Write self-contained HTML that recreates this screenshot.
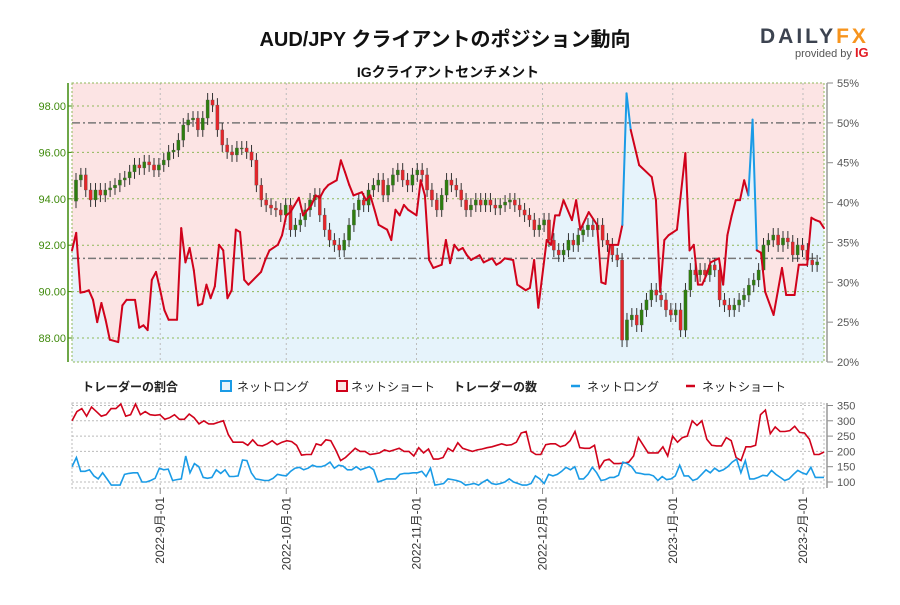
<!DOCTYPE html>
<html><head><meta charset="utf-8"><style>
body{margin:0;background:#fff;width:900px;height:600px;overflow:hidden;font-family:"Liberation Sans","Noto Sans CJK JP",sans-serif}
</style></head><body>
<svg id="c" width="900" height="600" viewBox="0 0 900 600" xmlns="http://www.w3.org/2000/svg" font-family="Liberation Sans, Noto Sans CJK JP, sans-serif">
<text x="445" y="46" text-anchor="middle" font-size="20" font-weight="bold" fill="#111">AUD/JPY クライアントのポジション動向</text>
<text x="448" y="77" text-anchor="middle" font-size="14" font-weight="bold" fill="#111">IGクライアントセンチメント</text>
<g>
<text x="760" y="43" font-size="21" font-weight="bold" fill="#3c4350" letter-spacing="3">DAILY<tspan fill="#f7941d">FX</tspan></text>
<text x="795" y="57" font-size="11" fill="#555">provided by <tspan fill="#e31b23" font-weight="bold" font-size="13">IG</tspan></text>
</g>
<g id="main"></g>
<g id="legend" font-size="12" fill="#222">
<text x="82" y="391" font-weight="bold">トレーダーの割合</text>
<rect x="221" y="381" width="10" height="10" fill="#e6f3fb" stroke="#1a9be6" stroke-width="2"/>
<text x="237" y="391">ネットロング</text>
<rect x="337" y="381" width="10" height="10" fill="#fce4e4" stroke="#d0021b" stroke-width="2"/>
<text x="351" y="391">ネットショート</text>
<text x="453" y="391" font-weight="bold">トレーダーの数</text>
<line x1="571" y1="386" x2="580" y2="386" stroke="#1a9be6" stroke-width="2.5"/>
<text x="587" y="391">ネットロング</text>
<line x1="686" y1="386" x2="695" y2="386" stroke="#d0021b" stroke-width="2.5"/>
<text x="702" y="391">ネットショート</text>
</g>
<g id="bottom"></g>
</svg>
<script>
const pctDays=[0,1,2,3,4,5,6,7,8,9,11,12,13,15,16,17,18,19,20,21,22,23,25,26,27,28,29,30,31,32,33,34,35,36,37,38,39,40,41,42,45,46,47,49,50,51,52,53,54,55,57,58,59,60,61,63,64,65,66,67,69,70,71,72,73,75,76,77,78,79,80,82,83,84,85,86,88,89,90,91,92,93,94,95,97,98,100,101,102,103,105,106,108,109,110,111,113,114,115,116,117,119,120,121,123,125,126,127,128,130,131,132,133,135,138,139,140,141,142,144,146,147,148,149,150,151,152,154,155,156,157,158,159,160,161,162,163,164,165,167,169,170,172,173,175,176,177,178,179];
const pctValues=[34.0,36.2,28.7,28.8,29.0,27.8,25.0,27.4,25.3,22.8,22.5,27.1,27.8,27.8,24.3,24.6,24.0,30.3,31.3,29.0,26.5,25.3,25.3,36.8,32.5,34.3,31.5,27.1,27.3,29.7,28.0,29.5,34.7,34.0,28.0,29.0,36.6,36.3,30.3,29.7,31.3,32.8,34.0,34.7,35.9,38.4,38.8,39.7,40.6,38.4,39.7,40.9,40.6,41.6,42.2,42.8,45.3,43.8,42.2,40.9,41.3,40.3,40.9,39.1,37.2,36.6,35.3,39.1,38.4,39.7,39.1,38.4,42.8,40.9,32.8,31.8,32.2,35.3,32.4,34.7,34.0,34.3,33.4,32.8,33.4,32.5,33.0,32.2,32.5,33.0,32.8,29.7,29.0,29.3,32.8,26.8,35.3,34.7,38.4,38.4,40.3,37.8,40.3,36.6,38.8,37.2,30.0,29.8,34.7,34.7,37.2,53.7,49.1,44.7,43.2,40.3,28.8,35.3,35.9,36.6,46.2,34.0,34.7,29.7,29.7,30.9,32.5,33.0,29.7,35.9,38.3,40.3,40.3,42.8,40.9,50.4,34.0,33.7,28.8,25.9,31.8,28.4,28.4,32.2,32.2,38.1,37.8,37.6,36.8];
const closes=[94.81,95.03,94.38,93.95,94.38,94.16,94.38,94.47,94.59,94.81,94.90,95.16,95.46,95.33,95.59,95.46,95.24,95.46,95.67,96.02,96.10,96.53,97.18,97.40,97.48,96.97,97.48,98.26,98.04,96.97,96.32,96.02,95.89,96.19,96.19,96.02,95.67,94.59,93.95,93.73,93.60,93.52,93.30,93.73,92.66,92.87,93.09,93.52,93.95,94.16,93.30,92.66,92.22,92.01,91.79,92.22,92.87,93.52,93.95,93.73,94.38,94.59,94.81,94.16,94.59,95.03,95.24,94.81,94.59,95.03,95.24,95.03,94.38,93.95,93.52,94.16,94.81,94.59,94.38,93.95,93.52,93.73,93.95,93.73,93.95,93.73,93.60,93.73,93.86,93.95,93.73,93.52,93.30,93.09,92.66,92.87,93.09,92.22,91.79,91.58,91.79,92.22,92.01,92.44,92.66,92.87,92.66,92.87,92.22,92.01,91.58,91.36,87.91,88.78,88.99,88.56,89.21,89.64,90.07,89.85,89.64,89.21,88.99,89.21,88.34,90.07,90.93,90.72,90.93,90.72,91.15,90.93,89.64,89.42,89.21,89.42,89.64,89.85,90.28,90.50,90.93,92.01,92.22,92.44,92.01,92.31,92.14,91.58,92.01,91.79,91.36,91.15,91.28];
const shortCounts=[300,330,340,315,345,330,315,320,340,340,355,315,320,355,320,330,320,318,320,305,310,320,305,305,322,310,290,300,290,290,295,300,255,230,230,230,220,238,220,218,225,235,222,230,235,232,220,188,190,190,225,220,238,235,205,170,180,195,210,200,200,190,192,195,205,200,205,210,200,200,185,212,195,208,175,175,180,210,200,228,210,205,200,205,208,212,215,220,225,220,222,230,260,265,200,190,190,222,225,225,215,220,235,265,212,210,210,220,145,170,175,160,160,162,165,185,245,220,195,195,195,215,185,250,230,245,250,300,285,300,240,220,218,218,245,235,180,170,215,215,220,320,335,258,280,265,265,268,282,262,260,240,190,190,198];
const longCounts=[150,180,135,135,140,120,110,130,110,90,90,90,125,128,130,130,100,100,105,112,145,140,142,105,108,110,185,130,160,150,115,112,115,140,128,140,118,118,120,172,170,130,110,108,105,105,112,125,122,120,135,145,148,140,145,155,150,150,155,165,145,155,152,140,140,150,140,145,150,140,100,105,110,110,110,125,128,128,130,130,135,118,145,90,92,95,110,108,105,100,90,92,95,90,100,108,95,92,95,100,110,100,95,90,90,95,120,110,95,125,120,125,135,148,140,150,110,110,125,148,130,105,108,115,115,122,165,160,150,130,128,125,125,120,105,118,108,110,120,155,120,120,105,110,125,140,130,145,135,140,150,165,175,130,170,110,110,115,122,120,138,125,115,105,110,125,138,130,125,148,115,115,115];
const priceTicks=[88,90,92,94,96,98];
const pctTicks=[20,25,30,35,40,45,50,55];
const countTicks=[100,150,200,250,300,350];
const monthLabels=["2022-9月-01","2022-10月-01","2022-11月-01","2022-12月-01","2023-1月-01","2023-2月-01"];
const monthDays=[21,51,82,112,143,174];
const refPct=[50,33];

const NS="http://www.w3.org/2000/svg";
const X0=72,X1=824,DMAX=179;
const xs=d=>X0+d*(X1-X0)/DMAX;
const yP=p=>106+(98-p)*23.2;
const yR=v=>83+(55-v)*(362-83)/35;
const yC=v=>482-(v-100)*0.306;
function mk(parent,tag,attrs){const e=document.createElementNS(NS,tag);for(const k in attrs)e.setAttribute(k,attrs[k]);parent.appendChild(e);return e;}
const main=document.getElementById('main');
const bottom=document.getElementById('bottom');

let pts=pctDays.map((d,i)=>xs(d).toFixed(1)+','+yR(pctValues[i]).toFixed(1));
const pink=mk(main,'rect',{x:X0,y:83,width:X1-X0,height:279,fill:'#fce4e4'});


const blue=mk(main,'polygon',{points:xs(0)+',362 '+pts.join(' ')+' '+xs(DMAX)+',362',fill:'#e6f3fb'});



priceTicks.forEach(p=>{
  const l=mk(main,'line',{x1:X0,x2:X1,y1:yP(p),y2:yP(p),stroke:'#8fb85a','stroke-dasharray':'2,3','stroke-width':1});
  
  
  const t=mk(main,'text',{x:X0-6,y:yP(p)+4,'text-anchor':'end','font-size':11,fill:'#3f8a0b'});
  t.textContent=p.toFixed(2);
  
  
  mk(main,'line',{x1:X0-4,x2:X0,y1:yP(p),y2:yP(p),stroke:'#3f8a0b'});
});
pctTicks.forEach(v=>{
  const t=mk(main,'text',{x:X1+13,y:yR(v)+4,'font-size':11,fill:'#555'});
  t.textContent=v+'%';
  
  
  mk(main,'line',{x1:X1+3,x2:X1+9,y1:yR(v),y2:yR(v),stroke:'#888'});
});
monthDays.forEach(d=>{
  const l=mk(main,'line',{x1:xs(d),x2:xs(d),y1:83,y2:362,stroke:'#bbb','stroke-dasharray':'2,3'});
  
  
});
refPct.forEach(v=>{
  const l=mk(main,'line',{x1:X0,x2:X1,y1:yR(v),y2:yR(v),stroke:'#777','stroke-dasharray':'8,3,2,3','stroke-width':1.5});
  
  
});
const fr=mk(main,'rect',{x:X0,y:83,width:X1-X0,height:279,fill:'none',stroke:'#8fb85a','stroke-dasharray':'2,2'});


mk(main,'line',{x1:X0-4,x2:X0-4,y1:83,y2:362,stroke:'#3f8a0b','stroke-width':1.5});
mk(main,'line',{x1:X1+3,x2:X1+3,y1:83,y2:362,stroke:'#999','stroke-width':1.5});

const n=closes.length;
const cw=(X1-X0-6)/n;
for(let i=0;i<n;i++){
  const o=i?closes[i-1]:93.9, c=closes[i];
  const hi=Math.max(o,c)+0.3, lo=Math.min(o,c)-0.3;
  const cx=X0+4+i*cw;
  const w=mk(main,'line',{x1:cx,x2:cx,y1:yP(hi),y2:yP(lo),stroke:'#333','stroke-width':1});
  
  
  const top=yP(Math.max(o,c)),h=Math.max(1,Math.abs(yP(o)-yP(c)));
  const r=mk(main,'rect',{x:cx-1.6,y:top,width:3.2,height:h,fill:c>=o?'#2e7d0f':'#e3262b',stroke:'#555','stroke-width':0.3});
  
  
}
for(let i=1;i<pctDays.length;i++){
  const a=pctValues[i-1],b=pctValues[i];
  const l=mk(main,'line',{x1:xs(pctDays[i-1]),y1:yR(a),x2:xs(pctDays[i]),y2:yR(b),stroke:(a>50||b>50)?'#1a9be6':'#d0021b','stroke-width':2,'stroke-linecap':'round'});
  
  
}

const by0=403,by1=488;
countTicks.forEach(v=>{
  const l=mk(bottom,'line',{x1:X0,x2:X1,y1:yC(v),y2:yC(v),stroke:'#bbb','stroke-dasharray':'2,2'});
  
  
  const t=mk(bottom,'text',{x:X1+13,y:yC(v)+4,'font-size':11,fill:'#555'});
  t.textContent=v;
  
  
  mk(bottom,'line',{x1:X1+3,x2:X1+9,y1:yC(v),y2:yC(v),stroke:'#888'});
});
const bf=mk(bottom,'rect',{x:X0,y:by0,width:X1-X0,height:by1-by0,fill:'none',stroke:'#bbb','stroke-dasharray':'2,2'});


mk(bottom,'line',{x1:X1+3,x2:X1+3,y1:by0,y2:by1,stroke:'#999','stroke-width':1.5});
monthDays.forEach((d,i)=>{
  const l=mk(bottom,'line',{x1:xs(d),x2:xs(d),y1:by0,y2:by1,stroke:'#bbb','stroke-dasharray':'2,3'});
  
  
  mk(bottom,'line',{x1:xs(d),x2:xs(d),y1:by1,y2:by1+6,stroke:'#888'});
  const t=mk(bottom,'text',{x:0,y:0,'font-size':12,fill:'#333','text-anchor':'end',transform:`translate(${xs(d)+4},497) rotate(-90)`});
  t.textContent=monthLabels[i];
  
  
});
function series(arr,col,name){
  const p=arr.map((v,i)=>(X0+i*(X1-X0)/(arr.length-1)).toFixed(1)+','+yC(v).toFixed(1)).join(' ');
  const l=mk(bottom,'polyline',{points:p,fill:'none',stroke:col,'stroke-width':1.6});
  
  
}
series(shortCounts,'#d0021b','net-short-count-line');
series(longCounts,'#1a9be6','net-long-count-line');
</script>
</body></html>
